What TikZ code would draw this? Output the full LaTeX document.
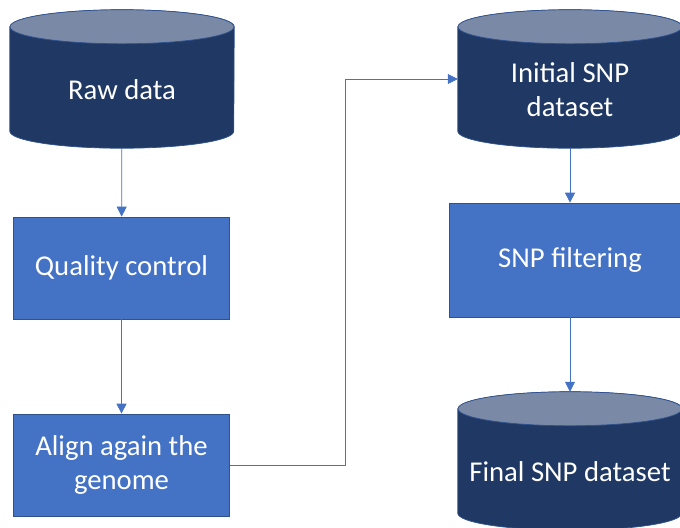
\documentclass[tikz,border=0pt]{standalone}
\usepackage{fontspec}
\setmainfont{Carlito}
\usetikzlibrary{arrows.meta, positioning}

\definecolor{navy}{HTML}{203864}
\definecolor{navytop}{HTML}{7A89A6}
\definecolor{boxblue}{HTML}{4472C4}
\definecolor{edgeblue}{HTML}{2F528F}

\begin{document}
\begin{tikzpicture}[x=0.03cm, y=-0.03cm,
	every node/.style = {font=\fontsize{24.5}{29}\selectfont, text=white, align=center},
	db/.style = {rectangle, minimum width=6.72cm, minimum height=4.14cm, inner sep=0pt},
	dbtext/.style = {yshift=-0.32cm},
	proc/.style = {rectangle, draw=edgeblue, fill=boxblue, line width=0.6pt,
		minimum width=6.5cm, minimum height=3.06cm},
	link/.style = {color=boxblue, line width=0.6pt, -{Triangle[length=0.3cm, width=0.3cm]}}
	]
	\useasboundingbox (0,0) rectangle (680,527);
	\clip (0,0) rectangle (680,527);

	% cylinders (outline only, drawn below)
	\node (raw) [db] at (122,79) {};
	\node (init) [db] at (570,79) {};
	\node (final) [db] at (570,461) {};
	\foreach \c in {raw,init,final} {
		\filldraw [fill=navy, draw=edgeblue, line width=0.6pt]
		([yshift=-0.51cm]\c.north west) -- ([yshift=0.51cm]\c.south west)
		arc [start angle=180, end angle=360, x radius=3.36cm, y radius=0.51cm]
		-- ([yshift=-0.51cm]\c.north east)
		arc [start angle=0, end angle=180, x radius=3.36cm, y radius=0.51cm] -- cycle;
		\filldraw [fill=navytop, draw=edgeblue, line width=0.6pt]
		([yshift=-0.51cm]\c.north) ellipse [x radius=3.36cm, y radius=0.51cm];
	}

	% left column
	\node (rawtext) [dbtext] at (raw.center) {Raw data};
	\node (qc) [proc] at (121.5,268) {Quality control};
	\node (align) [proc] at (121.5,465) {Align again the\\genome};

	% right column
	\node (inittext) [dbtext] at (init.center) {Initial SNP\\dataset};
	\node (filt) [proc, minimum width=7.26cm, minimum height=3.42cm] at (570,260) {SNP filtering};
	\node (finaltext) [dbtext] at (final.center) {Final SNP dataset};

	\path [link]
	(raw) edge (qc)
	(qc) edge (align)
	(init) edge (filt)
	(filt) edge (final);
	\draw [link] (align.east) -- ++(115,0) |- (init.west);
\end{tikzpicture}
\end{document}
